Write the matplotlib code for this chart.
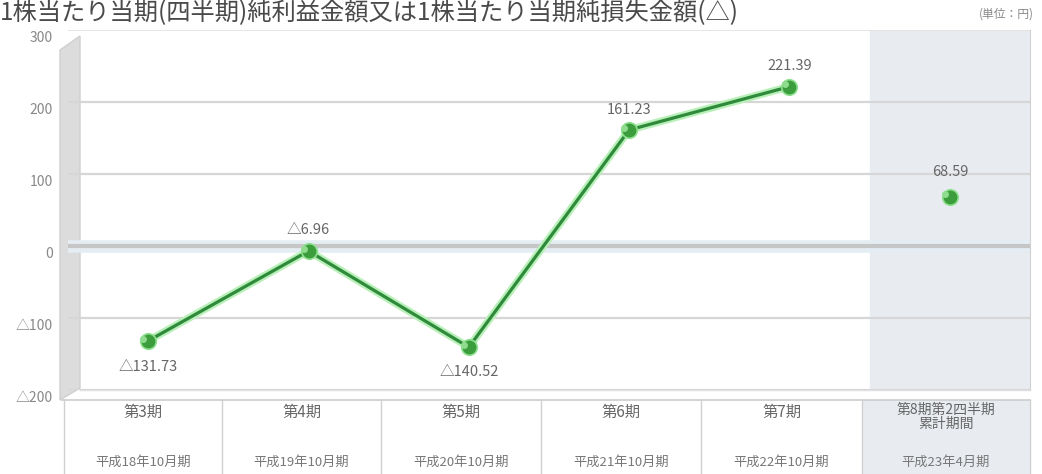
import matplotlib
matplotlib.use("Agg")
import matplotlib.pyplot as plt
from matplotlib.patches import Polygon, Rectangle
from matplotlib.transforms import ScaledTranslation
import numpy as np

plt.rcParams['font.family'] = ['Noto Sans CJK JP', 'DejaVu Sans']

# ---- data ----
periods = ["第3期", "第4期", "第5期", "第6期", "第7期", "第8期第2四半期\n累計期間"]
fiscal = ["平成18年10月期", "平成19年10月期", "平成20年10月期", "平成21年10月期",
          "平成22年10月期", "平成23年4月期"]
values = [-131.73, -6.96, -140.52, 161.23, 221.39, 68.59]
value_labels = ["△131.73", "△6.96", "△140.52", "161.23", "221.39", "68.59"]
yticks = [-200, -100, 0, 100, 200, 300]
ytick_labels = ["△200", "△100", "0", "100", "200", "300"]
title = "1株当たり当期(四半期)純利益金額又は1株当たり当期純損失金額(△)"
unit = "(単位：円)"

W, H = 1042, 474
fig = plt.figure(figsize=(W / 100, H / 100), dpi=100)
fig.patch.set_facecolor("white")

def fx(px):
    return px / W

def fy(py):
    return 1 - py / H

L, R, T, B = 68, 1030, 30, 390
ax = fig.add_axes([fx(L), fy(B), fx(R) - fx(L), fy(T) - fy(B)])
ax.set_xlim(-0.5, 5.5)
ax.set_ylim(-200, 300)
ax.set_facecolor("white")

# shaded last column
ax.axvspan(4.5, 5.5, color="#e8ecf1", zorder=0)

# gridlines
for t in yticks:
    if t == 0:
        ax.axhline(t, color="#e4edf3", lw=9, zorder=1)
        ax.axhline(t, color="#c6c6c6", lw=3, zorder=1.1)
    elif t == 300:
        ax.axhline(t, color="#e2e2e2", lw=1.2, zorder=1)
    else:
        ax.axhline(t, color="#d6d6d6", lw=1.6, zorder=1)

for s in ["top", "bottom", "left"]:
    ax.spines[s].set_visible(False)
ax.spines["right"].set_color("#d0d0d0")
ax.set_xticks([])
ax.set_yticks(yticks)
ax.set_yticklabels(ytick_labels, color="#888888", fontsize=10)
ax.tick_params(axis="y", length=0, pad=11)
for lab in ax.get_yticklabels():
    lab.set_transform(lab.get_transform() + ScaledTranslation(0, -0.07, fig.dpi_scale_trans))

x = np.arange(len(values))
# line (first five connected)
ax.plot(x[:5], values[:5], color="#b8f0b8", lw=5.5, zorder=3, solid_capstyle="round")
ax.plot(x[:5], values[:5], color="#2f8a3c", lw=2.3, zorder=4)
# markers
ax.scatter(x, values, s=125, color="#3c9d3c", edgecolor="#8ee08e", linewidth=1.2, zorder=5)
ax.scatter(x - 0.03, np.array(values) + 3, s=25, color="#8fdc8f", zorder=6, linewidth=0)

offsets = [-19, 15, -18, 14, 15, 18]
for xi, v, lbl, off in zip(x, values, value_labels, offsets):
    ax.annotate(lbl, (xi, v), xytext=(0, off), textcoords="offset points",
                ha="center", va="center", fontsize=10.5, color="#666666", zorder=7)

# left 3D side wall
wall = Polygon([[fx(60), fy(50)], [fx(80), fy(36)], [fx(80), fy(388)], [fx(60), fy(400)]],
               closed=True, transform=fig.transFigure, facecolor="#dcdcdc",
               edgecolor="#cfcfcf", lw=1, zorder=0)
fig.patches.append(wall)
ax.set_zorder(1)
ax.patch.set_alpha(0)
wp = Rectangle((fx(80), fy(B)), fx(R) - fx(80), fy(T) - fy(B), transform=fig.transFigure,
               facecolor="white", edgecolor="none", zorder=-1)
fig.patches.append(wp)

# bottom category table
fig.patches.append(Rectangle((fx(862), 0), fx(1030) - fx(862), fy(400), transform=fig.transFigure,
                             facecolor="#e8ecf1", edgecolor="none", zorder=0))
fig.add_artist(plt.Line2D([fx(62), fx(1030)], [fy(400), fy(400)], color="#cccccc", lw=1.2))
fig.add_artist(plt.Line2D([fx(80), fx(1030)], [fy(390), fy(390)], color="#e0e0e0", lw=1))
bounds = [64, 222, 381, 541, 701, 862, 1030]
for b in bounds:
    fig.add_artist(plt.Line2D([fx(b), fx(b)], [0, fy(400)], color="#d0d0d0", lw=1))
for i, (p, f) in enumerate(zip(periods, fiscal)):
    cx = (bounds[i] + bounds[i + 1]) / 2
    if "\n" in p:
        fig.text(fx(cx), fy(417), p, ha="center", va="center", fontsize=10, color="#666666",
                 linespacing=1.05)
    else:
        fig.text(fx(cx), fy(412), p, ha="center", va="center", fontsize=11, color="#666666")
    fig.text(fx(cx), fy(462), f, ha="center", va="center", fontsize=9.5, color="#777777")

fig.text(fx(0), fy(13), title, ha="left", va="center", fontsize=17.5, color="#4a4a4a")
fig.text(fx(1034), fy(14), unit, ha="right", va="center", fontsize=8.5, color="#888888")

fig.savefig("out.png", dpi=100)
